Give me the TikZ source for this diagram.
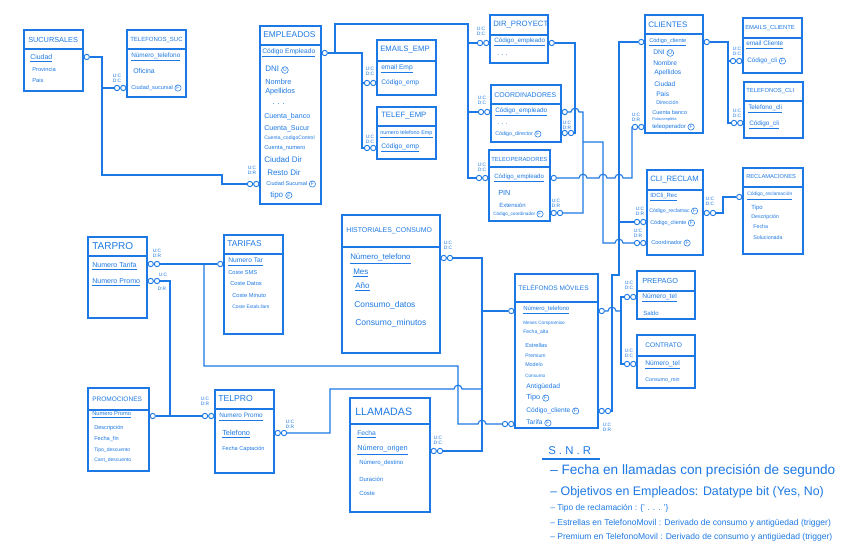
\documentclass[tikz,border=0pt]{standalone}
\usepackage{fontspec}
\setmainfont{Liberation Sans}
\usetikzlibrary{fit}
\definecolor{ink}{RGB}{28,120,228}
\newcommand\circL[1]{\tikz[baseline=(cc.base)]\node[draw=ink,circle,inner sep=0.45pt,line width=0.4pt,font=\fontsize{3.8}{3.8}\selectfont,text=ink] (cc) {#1};}
\newcommand\cF{\circL{F}}
\newcommand\cU{\circL{U}}
\newcommand\ent[6]{\node[ebox,fit={(#2,#3) (#4,#5)}] (#1) {};\draw[ln] (#1.west |- 0,#6) -- (#1.east |- 0,#6);}
\newcommand\ptext[5]{\node[txt,font=\fontsize{#4}{#4}\selectfont] (#1) at (#2,#3) {#5};}
\newcommand\clab[4]{\node[clb] (#1) at (#2,#3) {#4};}
\newcommand\oneR[3]{\node[mk,anchor=west] (#1) at (#2.east |- 0,#3) {};}
\newcommand\twoR[3]{\node[mk,anchor=west] (#1x) at (#2.east |- 0,#3) {};\node[mk,anchor=west] (#1) at (#1x.east) {};}
\newcommand\oneL[3]{\node[mk,anchor=east] (#1) at (#2.west |- 0,#3) {};}
\newcommand\twoL[3]{\node[mk,anchor=east] (#1x) at (#2.west |- 0,#3) {};\node[mk,anchor=east] (#1) at (#1x.west) {};}
\newcommand\hopx[2]{-- (#1-4,#2) .. controls (#1-4,#2-5) and (#1+4,#2-5) .. (#1+4,#2)}
\begin{document}
\begin{tikzpicture}[x=0.75pt,y=-0.75pt,
 ebox/.style={draw=ink, inner sep=0pt, line width=0.9pt},
 ln/.style={draw=ink, line width=0.85pt},
 txt/.style={anchor=west, inner sep=0pt, text=ink},
 mk/.style={circle, draw=ink, minimum size=4pt, inner sep=0pt, line width=0.7pt},
 clb/.style={inner sep=0pt, align=center, text=ink, font=\fontsize{3.6}{3.9}\selectfont}]
\useasboundingbox (0,0) rectangle (848,549);
% ---------- entities
\ent{suc}{24}{30}{83}{91}{49}
\ent{tsuc}{127}{30}{186}{97}{49}
\ent{emp}{260}{26}{321}{204}{45}
\ent{eemp}{377}{40}{436}{95}{61}
\ent{temp}{377}{107}{436}{159}{126}
\ent{dir}{490}{15}{548}{63}{35}
\ent{coord}{491}{85}{561}{142}{104}
\ent{tele}{489}{150}{550}{221}{167}
\ent{cli}{645}{15}{703}{133}{34}
\ent{ecli}{743}{18}{802}{73}{38}
\ent{tcli}{744}{82}{803}{138}{101}
\ent{clir}{647}{170}{703}{255}{190}
\ent{recl}{743}{168}{803}{254}{187}
\ent{tarpro}{88}{237}{147}{318}{256}
\ent{tarif}{224}{235}{283}{334}{254}
\ent{hist}{342}{215}{440}{353}{247}
\ent{tm}{515}{274}{598}{428}{302}
\ent{prep}{637}{271}{695}{319}{291}
\ent{contr}{637}{335}{695}{388}{356}
\ent{promo}{88}{388}{149}{471}{410}
\ent{telpro}{215}{390}{274}{473}{409}
\ent{llam}{350}{398}{430}{512}{424}
% ---------- texts
\ptext{sucT}{28}{40}{5.5}{SUCURSALES}
\ptext{suc1}{30}{58}{5.2}{\underline{Ciudad}}
\ptext{suc2}{32}{69}{4.3}{Provincia}
\ptext{suc3}{32}{80}{4.3}{Pais}
\ptext{tsucT}{130}{40}{4.5}{TELEFONOS\_SUC}
\ptext{tsuc1}{131}{57}{4.8}{\underline{Número\_telefono}}
\ptext{tsuc2}{133}{71}{5.2}{Oficina}
\ptext{tsuc3}{131}{88}{4.2}{Ciudad\_sucursal \cF}
\ptext{empT}{263}{35}{6.3}{EMPLEADOS}
\ptext{emp1}{262}{53}{5}{\underline{Código Empleado}}
\ptext{emp2}{265}{70}{6}{DNI \cU}
\ptext{emp3}{265}{82}{5.5}{Nombre}
\ptext{emp4}{265}{92}{5.5}{Apellidos}
\ptext{emp5}{272}{104}{6}{. . .}
\ptext{emp6}{264}{117}{5.3}{Cuenta\_banco}
\ptext{emp7}{264}{129}{5.3}{Cuenta\_Sucur}
\ptext{emp8}{264}{138}{3.8}{Cuenta\_codigoControl}
\ptext{emp9}{264}{148}{4.3}{Cuenta\_numero}
\ptext{emp10}{264}{160}{6}{Ciudad Dir}
\ptext{emp11}{267}{173}{6}{Resto Dir}
\ptext{emp12}{266}{184}{4.2}{Ciudad Sucursal \cF}
\ptext{emp13}{270}{195}{6}{tipo \cF}
\ptext{eempT}{380}{50}{5.8}{EMAILS\_EMP}
\ptext{eemp1}{381}{69}{5}{\underline{email Emp}}
\ptext{eemp2}{381}{83}{5}{Código\_emp}
\ptext{tempT}{381}{116}{5.8}{TELEF\_EMP}
\ptext{temp1}{380}{134}{4.1}{\underline{numero telefono Emp}}
\ptext{temp2}{381}{148}{5}{\underline{Código\_emp}}
\ptext{dirT}{493}{25}{5.8}{DIR\_PROYECT}
\ptext{dir1}{494}{42}{4.7}{\underline{Código\_empleado}}
\ptext{dir2}{497}{55}{5}{. . .}
\ptext{coordT}{494}{95}{5.2}{COORDINADORES}
\ptext{coord1}{495}{112}{4.8}{\underline{Código\_empleado}}
\ptext{coord2}{497}{124}{5}{. . .}
\ptext{coord3}{495}{134}{4}{Código\_director \cF}
\ptext{teleT}{491}{159}{4.4}{TELEOPERADORES}
\ptext{tele1}{494}{178}{4.6}{\underline{Código\_empleado}}
\ptext{tele2}{498}{193}{5.5}{PIN}
\ptext{tele3}{499}{205}{4.5}{Extensión}
\ptext{tele4}{493}{214}{3.5}{Código\_coordinador \cF}
\ptext{cliT}{648}{25}{6}{CLIENTES}
\ptext{cli1}{649}{42}{4.2}{\underline{Código\_cliente}}
\ptext{cli2}{653}{53}{5}{DNI \cU}
\ptext{cli3}{653}{63}{5}{Nombre}
\ptext{cli4}{654}{73}{5}{Apellidos}
\ptext{cli5}{654}{84}{5}{Ciudad}
\ptext{cli6}{656}{94}{5}{Pais}
\ptext{cli7}{656}{103}{4}{Dirección}
\ptext{cli8}{652}{112}{4.2}{Cuenta banco}
\ptext{cli9}{652}{119}{3}{Fotocompleta}
\ptext{cli10}{652}{127}{4.5}{teleoperador \cF}
\ptext{ecliT}{745}{28}{4.4}{EMAILS\_CLIENTE}
\ptext{ecli1}{746}{45}{4.8}{\underline{email Cliente}}
\ptext{ecli2}{747}{61}{4.8}{Código\_cli \cF}
\ptext{tcliT}{746}{91}{4.4}{TELEFONOS\_CLI}
\ptext{tcli1}{748}{109}{4.8}{\underline{Telefono\_cli}}
\ptext{tcli2}{749}{125}{4.8}{\underline{Código\_cli}}
\ptext{clirT}{650}{180}{5.8}{CLI\_RECLAM}
\ptext{clir1}{650}{197}{4.5}{\underline{IDCli\_Rec}}
\ptext{clir2}{649}{211}{3.9}{Código\_reclamac \cF}
\ptext{clir3}{650}{223}{4.1}{Código\_cliente \cF}
\ptext{clir4}{651}{243}{4.2}{Coordinador \cF}
\ptext{reclT}{746}{177}{4.3}{RECLAMACIONES}
\ptext{recl1}{747}{196}{3.7}{\underline{Código\_reclamación}}
\ptext{recl2}{751}{208}{4.5}{Tipo}
\ptext{recl3}{751}{217}{4}{Descripción}
\ptext{recl4}{753}{227}{4}{Fecha}
\ptext{recl5}{753}{238}{4}{Solucionada}
\ptext{tarproT}{92}{246}{7.5}{TARPRO}
\ptext{tarpro1}{92}{266}{5.3}{\underline{Numero Tarifa}}
\ptext{tarpro2}{92}{282}{5.3}{\underline{Numero Promo}}
\ptext{tarifT}{227}{244}{6.3}{TARIFAS}
\ptext{tarif1}{228}{262}{5}{\underline{Numero Tar}}
\ptext{tarif2}{228}{273}{4.3}{Coste SMS}
\ptext{tarif3}{230}{284}{4.3}{Coste Datos}
\ptext{tarif4}{232}{295}{4.3}{Coste Minuto}
\ptext{tarif5}{232}{307}{3.7}{Coste Estab.llam}
\ptext{histT}{346}{231}{5.2}{HISTORIALES\_CONSUMO}
\ptext{hist1}{350}{259}{5.9}{\underline{Número\_telefono}}
\ptext{hist2}{353}{273}{6}{\underline{Mes}}
\ptext{hist3}{355}{287}{6}{\underline{Año}}
\ptext{hist4}{354}{305}{6.3}{Consumo\_datos}
\ptext{hist5}{355}{323}{6.4}{Consumo\_minutos}
\ptext{tmT}{518}{288}{4.9}{TELÉFONOS MÓVILES}
\ptext{tm1}{523}{310}{4.5}{\underline{Número\_telefono}}
\ptext{tm2}{523}{323}{3.5}{Meses Compromiso}
\ptext{tm3}{523}{332}{3.8}{Fecha\_alta}
\ptext{tm4}{525}{345}{4.3}{Estrellas}
\ptext{tm5}{525}{356}{3.8}{Premium}
\ptext{tm6}{525}{365}{4}{Modelo}
\ptext{tm7}{525}{376}{3.5}{Consumo}
\ptext{tm8}{526}{387}{5}{Antigüedad}
\ptext{tm9}{526}{398}{5.5}{Tipo \cF}
\ptext{tm10}{526}{411}{5}{Código\_cliente \cF}
\ptext{tm11}{526}{423}{5}{Tarifa \cF}
\ptext{prepT}{642}{281}{5.5}{PREPAGO}
\ptext{prep1}{642}{298}{5}{\underline{Número\_tel}}
\ptext{prep2}{643}{313}{4.5}{Saldo}
\ptext{contrT}{645}{345}{5}{CONTRATO}
\ptext{contr1}{645}{365}{5}{\underline{Número\_tel}}
\ptext{contr2}{645}{380}{4}{Consumo\_min}
\ptext{promoT}{92}{399}{4.9}{PROMOCIONES}
\ptext{promo1}{92}{415}{4.3}{\underline{Numero Promo}}
\ptext{promo2}{94}{428}{4.2}{Descripción}
\ptext{promo3}{94}{439}{4.2}{Fecha\_fin}
\ptext{promo4}{94}{450}{3.8}{Tipo\_descuento}
\ptext{promo5}{94}{460}{3.8}{Cant\_descuento}
\ptext{telproT}{218}{399}{6.5}{TELPRO}
\ptext{telpro1}{219}{417}{4.8}{\underline{Numero Promo}}
\ptext{telpro2}{222}{434}{5.5}{\underline{Telefono}}
\ptext{telpro3}{222}{449}{4.2}{Fecha Captación}
\ptext{llamT}{355}{412}{8}{LLAMADAS}
\ptext{llam1}{357}{434}{5}{\underline{Fecha}}
\ptext{llam2}{357}{450}{5.5}{\underline{Número\_origen}}
\ptext{llam3}{359}{463}{4.5}{Número\_destino}
\ptext{llam4}{359}{479}{4.5}{Duración}
\ptext{llam5}{359}{493}{4.5}{Coste}
% ---------- notes
\ptext{n0}{548}{451}{8.5}{S . N . R}
\draw[ln] (542,459) -- (600,459);
\ptext{n1}{550}{471}{10.2}{– Fecha en llamadas con precisión de segundo}
\ptext{n2}{550}{492}{9.3}{– Objetivos en Empleados: Datatype bit (Yes, No)}
\ptext{n3}{550}{508}{6.3}{– Tipo de reclamación : \{' . . . '\}}
\ptext{n4}{550}{523}{6.4}{– Estrellas en TelefonoMovil : Derivado de consumo y antigüedad (trigger)}
\ptext{n5}{550}{537}{6.4}{– Premium en TelefonoMovil : Derivado de consumo y antigüedad (trigger)}
% ---------- SUCURSALES connections
\oneR{m1}{suc}{57}
\twoL{m2}{tsuc}{88}
\twoL{m3}{emp}{184}
\draw[ln] (m1.east) -- (102,57) |- (m2.west);
\draw[ln] (102,88) -- (102,175) -- (222,175) -- (222,184) -- (m3.west);
\clab{l1}{117}{78}{U:C\\D:C}
\clab{l2}{252}{170}{U:C\\D:R}
% ---------- EMPLEADOS connections
\oneR{m4}{emp}{53}
\twoL{m5}{eemp}{83}
\twoL{m6}{temp}{148}
\twoL{m7}{dir}{43}
\twoL{m8}{coord}{112}
\twoL{m9}{tele}{178}
\draw[ln] (m4.east) -- (362,53) |- (m6.west);
\draw[ln] (362,83) -- (m5.west);
\draw[ln] (335,53) -- (335,24) -- (468,24) |- (m9.west);
\draw[ln] (468,43) -- (m7.west);
\draw[ln] (468,112) -- (m8.west);
\clab{l3}{370}{71}{U:C\\D:C}
\clab{l4}{370}{139}{U:C\\D:C}
\clab{l5a}{481}{31}{U:C\\D:C}
\clab{l5b}{482}{100}{U:C\\D:C}
\clab{l5c}{482}{167}{U:C\\D:C}
% ---------- DIR -> COORD
\oneR{m10}{dir}{43}
\twoR{m11}{coord}{133}
\draw[ln] (m10.east) -- (575,43) |- (m11.east);
\clab{l6}{567}{125}{U:C\\D:R}
% ---------- COORD -> TELE, CLI_RECLAM
\oneR{m12}{coord}{112}
\twoR{m13}{tele}{213}
\twoL{m14}{clir}{243}
\draw[ln] (m12.east) \hopx{575}{112} -- (583,112) |- (m13.east);
\draw[ln] (583,142) -- (603,142) -- (603,243) \hopx{619}{243} -- (m14.west);
\clab{l7}{556}{203}{U:C\\D:R}
% ---------- TELE -> CLIENTES
\oneR{m15}{tele}{178}
\twoL{m16}{cli}{127}
\draw[ln] (m15.east) \hopx{583}{178} \hopx{603}{178} \hopx{619}{178} -- (632,178) |- (m16.west);
\clab{l8}{636}{117}{U:C\\D:R}
% ---------- CLIENTES -> TM, CLI_RECLAM
\oneL{m17}{cli}{42}
\twoL{m18}{clir}{222}
\twoR{m19}{tm}{411}
\draw[ln] (m17.west) -- (619,42) -- (619,275) -- (612,275) |- (m19.east);
\draw[ln] (619,222) -- (m18.west);
\clab{l9}{640}{211}{U:C\\D:R}
\clab{l10}{638}{233}{U:C\\D:R}
\clab{l11}{607}{427}{U:C\\D:R}
% ---------- CLIENTES -> EMAILS, TELEFONOS
\oneR{m20}{cli}{42}
\twoL{m21}{ecli}{61}
\twoL{m22}{tcli}{123}
\draw[ln] (m20.east) -- (728,42) |- (m22.west);
\draw[ln] (728,61) -- (m21.west);
\clab{l12}{737}{51}{U:C\\D:C}
\clab{l13}{737}{113}{U:C\\D:C}
% ---------- CLI_RECLAM -> RECLAMACIONES
\twoR{m23}{clir}{213}
\oneL{m24}{recl}{197}
\draw[ln] (m23.east) -- (723,213) |- (m24.west);
\clab{l14}{710}{201}{U:C\\D:C}
% ---------- TM -> PREPAGO, CONTRATO
\oneR{m25}{tm}{311}
\twoL{m26}{prep}{297}
\twoL{m27}{contr}{364}
\draw[ln] (m25.east) \hopx{612}{311} -- (621,311);
\draw[ln] (m26.west) -| (621,364) -- (m27.west);
\clab{l15}{629}{285}{U:C\\D:C}
\clab{l16}{629}{353}{U:C\\D:C}
% ---------- TARPRO -> TARIFAS, TM
\twoR{m28}{tarpro}{264}
\oneL{m29}{tarif}{264}
\twoL{m30}{tm}{424}
\draw[ln] (m28.east) -- (m29.west);
\draw[ln] (204,264) -- (204,366) -- (458,366) -- (458,424) \hopx{482}{424} -- (m30.west);
\clab{l17}{157}{253}{U:C\\D:R}
% ---------- TARPRO -> PROMOCIONES line
\twoR{m31}{tarpro}{281}
\draw[ln] (m31.east) -- (170,281) -- (170,416);
\clab{l18a}{163}{275}{U:C}
\clab{l18b}{162}{289}{D:R}
% ---------- PROMOCIONES -> TELPRO
\oneR{m32}{promo}{416}
\twoL{m33}{telpro}{416}
\draw[ln] (m32.east) -- (m33.west);
\clab{l19}{205}{401}{U:C\\D:R}
% ---------- TELPRO -> TM line
\twoR{m34}{telpro}{433}
\draw[ln] (m34.east) -- (330,433) -- (330,389) \hopx{458}{389} -- (482,389);
\clab{l20}{290}{424}{U:C\\D:R}
% ---------- HISTORIALES / LLAMADAS -> TM
\twoR{m35}{hist}{258}
\oneL{m36}{tm}{311}
\twoR{m37}{llam}{451}
\draw[ln] (m35.east) -- (482,258) |- (m37.east);
\draw[ln] (482,311) -- (m36.west);
\clab{l21}{448}{245}{U:C\\D:C}
\clab{l22}{438}{440}{U:C\\D:C}
\end{tikzpicture}
\end{document}
